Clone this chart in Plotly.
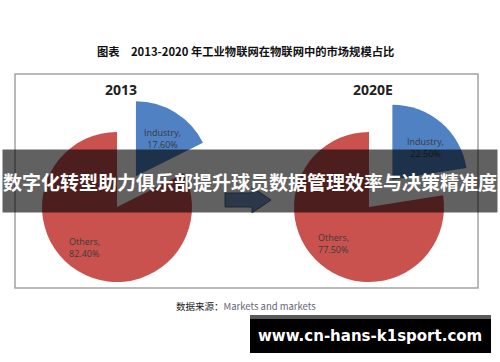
import plotly.graph_objects as go

W, H = 500, 362

# ---- data ----
years = ["2013", "2020E"]
categories = ["Industry", "Others"]
shares_2013 = [17.60, 82.40]
shares_2020 = [22.50, 77.50]
title_text = "图表　2013-2020 年工业物联网在物联网中的市场规模占比"
source_label = "数据来源："
source_name = "Markets and markets"
banner_text = "数字化转型助力俱乐部提升球员数据管理效率与决策精准度"
url_text = "www.cn-hans-k1sport.com"

RED = "#c9524f"
BLUE = "#4f81c3"


def px(x):
    return x / W


def py(y):
    return 1 - y / H


fig = go.Figure()

pie_domains = [
    dict(x=[px(6), px(228)], y=[py(318), py(96)]),
    dict(x=[px(258), px(480)], y=[py(318), py(96)]),
]
for vals, dom in zip([shares_2013, shares_2020], pie_domains):
    fig.add_trace(go.Pie(
        labels=categories, values=vals, sort=False, direction="clockwise",
        rotation=0, pull=[0.48, 0], textinfo="none", hoverinfo="label+value",
        marker=dict(colors=[BLUE, RED], line=dict(width=0)),
        domain=dom, showlegend=False,
    ))

shapes = [
    # frame
    dict(type="rect", xref="paper", yref="paper", x0=px(15), x1=px(478), y0=py(288), y1=py(74),
         line=dict(color="#a3a3a3", width=1.5), layer="above"),
]
# arrow between pies
pts = [(225, 193), (252, 193), (252, 187), (271, 200), (252, 213), (252, 207), (225, 207)]
path = "M" + " L".join(f"{px(x):.4f},{py(y):.4f}" for x, y in pts) + " Z"
shapes.append(dict(type="path", xref="paper", yref="paper", path=path,
                   fillcolor="#7391c0", line=dict(color="#4a6690", width=1), layer="above"))
# url box
shapes.append(dict(type="rect", xref="paper", yref="paper", x0=px(250), x1=px(491), y0=py(353), y1=py(315),
                   fillcolor="#000000", line=dict(width=0), layer="above"))
shapes.append(dict(type="rect", xref="paper", yref="paper", x0=px(250), x1=px(491), y0=py(319), y1=py(315),
                   fillcolor="#5a5a5a", line=dict(width=0), layer="above"))

ann = []
LBL = dict(family="Open Sans, Liberation Sans, sans-serif", size=9, color="#3a3a3a")


def add_text(x, y, text, font, xanchor="center", **kw):
    ann.append(dict(x=px(x), y=py(y), xref="paper", yref="paper", text=text, showarrow=False,
                    xanchor=xanchor, yanchor="middle", font=font, **kw))


add_text(245, 51, title_text, dict(family="Noto Sans CJK SC", size=11.3, color="#111", weight="bold"))
add_text(121, 89, years[0], dict(family="Open Sans", size=14, color="#222", weight="bold"))
add_text(373, 89, years[1], dict(family="Open Sans", size=14, color="#222", weight="bold"))

add_text(162, 138, f"{categories[0]},<br>{shares_2013[0]:.2f}%", LBL)
add_text(67, 247, f"{categories[1]},<br>{shares_2013[1]:.2f}%", LBL, xanchor="left", align="left")
add_text(425, 147, f"{categories[0]},<br>{shares_2020[0]:.2f}%", LBL)
add_text(316, 243, f"{categories[1]},<br>{shares_2020[1]:.2f}%", LBL, xanchor="left", align="left")

add_text(246, 306,
         f"<span style='color:#222'>{source_label}</span><span style='color:#667'>{source_name}</span>",
         dict(family="Noto Sans CJK SC, Open Sans", size=9.5, color="#222"))

# banner (drawn after labels so it dims them)
ann.append(dict(x=px(250), y=py(181), xref="paper", yref="paper", text=banner_text, showarrow=False,
                xanchor="center", yanchor="middle", width=494, height=62, borderpad=0,
                bgcolor="rgba(0,0,0,0.62)",
                font=dict(family="Noto Sans CJK SC", size=19, color="#ffffff", weight="bold")))

add_text(370, 336, url_text, dict(family="DejaVu Sans", size=15, color="#ffffff", weight="bold"))

fig.update_layout(
    width=W, height=H, margin=dict(l=0, r=0, t=0, b=0),
    paper_bgcolor="#ffffff", plot_bgcolor="#ffffff",
    shapes=shapes, annotations=ann,
)

fig.write_html("out.html", config={"displayModeBar": False},
               post_script="document.body.style.margin='0';")
